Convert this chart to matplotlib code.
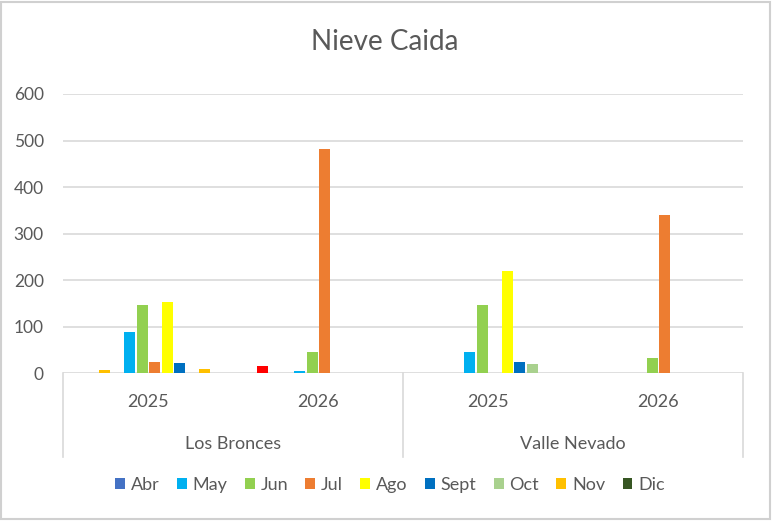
import matplotlib
matplotlib.use("Agg")
import matplotlib.pyplot as plt
from matplotlib.patches import Patch, Rectangle
from matplotlib.transforms import blended_transform_factory
import numpy as np

months = ['Ene', 'Feb', 'Mar', 'Abr', 'May', 'Jun', 'Jul', 'Ago', 'Sept', 'Oct', 'Nov', 'Dic']
groups = ['Los Bronces', 'Valle Nevado']
years = ['2025', '2026']
# values per month for categories: LB 2025, LB 2026, VN 2025, VN 2026
ene = [0, 0, 0, 0]
feb = [0, 16, 0, 0]
mar = [8, 0, 0, 0]
abr = [0, 0, 0, 0]
may = [89, 6, 46, 0]
jun = [146, 46, 146, 32]
jul = [25, 482, 0, 340]
ago = [154, 0, 220, 0]
sept = [23, 0, 25, 0]
octu = [0, 0, 20, 0]
nov = [10, 0, 0, 0]
dic = [0, 0, 0, 0]
series = [ene, feb, mar, abr, may, jun, jul, ago, sept, octu, nov, dic]
colors = ['#5B9BD5', '#FF0000', '#FFC000', '#4472C4', '#00B0F0', '#92D050',
          '#ED7D31', '#FFFF00', '#0070C0', '#A9D18E', '#FFC000', '#375623']
legend_months = ['Abr', 'May', 'Jun', 'Jul', 'Ago', 'Sept', 'Oct', 'Nov', 'Dic']
yticks = [0, 100, 200, 300, 400, 500, 600]

FONT = ['Lato', 'DejaVu Sans']
TXT = '#595959'
GRID = '#D9D9D9'
plt.rcParams['font.family'] = FONT

W, H = 772, 521
fig = plt.figure(figsize=(W / 100, H / 100), dpi=100)
x0, x1 = 63.3, 743.3
y600, y0 = 94.0, 373.3
ax = fig.add_axes([x0 / W, 1 - y0 / H, (x1 - x0) / W, (y0 - y600) / H])

ncat = 4
centers = np.arange(ncat) + 0.5
slot = 1 / 13.6
bw = slot * 0.88
for i, (vals, c) in enumerate(zip(series, colors)):
    xs = centers + (i - 5.5) * slot
    v = np.array(vals, dtype=float)
    m = v > 0
    ax.bar(xs[m], v[m], width=bw, color=c, linewidth=0, zorder=3)

ax.set_xlim(0, ncat)
ax.set_ylim(0, 600)
ax.set_yticks(yticks)
ax.set_yticklabels([str(t) for t in yticks])
ax.tick_params(axis='y', length=0, pad=14, labelsize=12.5, labelcolor=TXT)
ax.set_xticks([])
for s in ax.spines.values():
    s.set_visible(False)
for t in yticks[1:]:
    ax.axhline(t, color=GRID, lw=1.2, zorder=1)
ax.axhline(0, color=GRID, lw=1.2, zorder=2)

tr = blended_transform_factory(ax.transData, ax.transAxes)
box_bottom = -(456.7 - y0) / (y0 - y600)
for xv in [0, 2, 4]:
    ax.plot([xv, xv], [0, box_bottom], color=GRID, lw=1.2, transform=tr, clip_on=False)
year_y = -(401.7 - y0) / (y0 - y600)
grp_y = -(444.0 - y0) / (y0 - y600)
for k in range(ncat):
    ax.text(centers[k], year_y, years[k % 2], transform=tr, ha='center', va='center',
            fontsize=13, color=TXT)
for g, name in enumerate(groups):
    ax.text(2 * g + 1, grp_y, name, transform=tr, ha='center', va='center',
            fontsize=13, color=TXT)

fig.text(385 / W, 1 - 42 / H, 'Nieve Caida', ha='center', va='center',
         fontsize=20, color=TXT)

handles = [Patch(facecolor=colors[months.index(m)], edgecolor='none', label=m)
           for m in legend_months]
fig.legend(handles=handles, loc='center', bbox_to_anchor=(390 / W, 1 - 485 / H),
           ncol=9, frameon=False, fontsize=13, handlelength=0.55, handleheight=0.55,
           handletextpad=0.33, columnspacing=0.95, labelcolor=TXT, borderpad=0)

fig.patches.append(Rectangle((1 / W, 2 / H), (W - 3) / W, (H - 4) / H,
                             transform=fig.transFigure, fill=False,
                             edgecolor='#D0D0D0', lw=1.5))

fig.savefig('out.png', dpi=100)
